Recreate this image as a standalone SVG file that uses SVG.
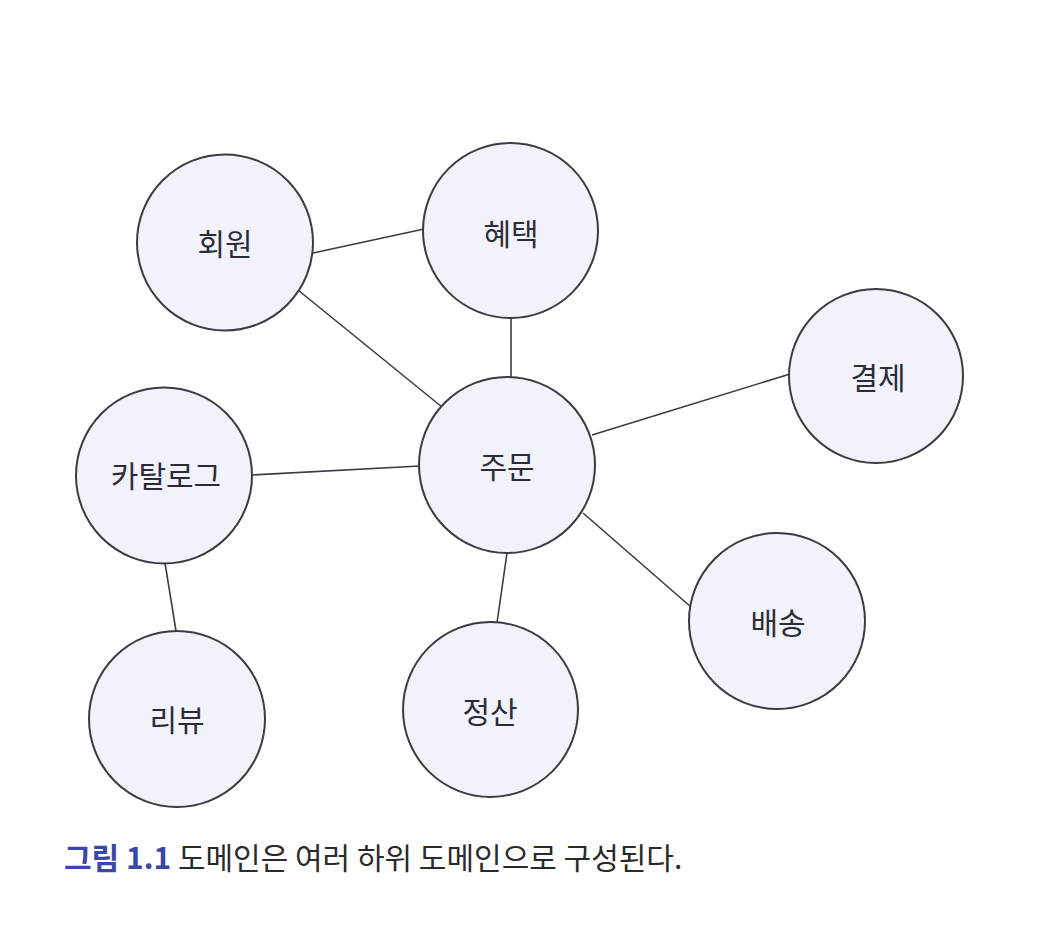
<svg xmlns="http://www.w3.org/2000/svg" width="1058" height="938" viewBox="0 0 1058 938">
<style>
.node circle{fill:#f1f2fa;stroke:#3b3b42;stroke-width:2}
.node text{font-family:"Noto Sans CJK KR","Noto Sans",sans-serif;font-size:30px;fill:#2c2c38;text-anchor:middle;dominant-baseline:central}
.edges line{stroke:#3b3b42;stroke-width:1.6}
.cap{font-family:"Noto Sans CJK KR","Noto Sans",sans-serif;font-size:30px;fill:#2a2a2a}
</style>
<rect width="1058" height="938" fill="#ffffff"/>
<g id="edges" class="edges">
<line x1="313" y1="253" x2="424" y2="229"/>
<line x1="298" y1="290" x2="442" y2="407"/>
<line x1="511" y1="317" x2="511" y2="378"/>
<line x1="592" y1="435" x2="790" y2="374"/>
<line x1="252" y1="475" x2="420" y2="466"/>
<line x1="165" y1="563" x2="176" y2="631"/>
<line x1="507" y1="553" x2="497" y2="623"/>
<line x1="583" y1="513" x2="691" y2="607"/>
</g>
<g id="n-member" class="node"><circle cx="225" cy="242.5" r="88"/><text x="225" y="242">회원</text></g>
<g id="n-benefit" class="node"><circle cx="510.5" cy="230.5" r="87.5"/><text x="511" y="232">혜택</text></g>
<g id="n-payment" class="node"><circle cx="876" cy="376" r="87"/><text x="878" y="376">결제</text></g>
<g id="n-catalog" class="node"><circle cx="164" cy="475.5" r="88"/><text x="166" y="474">카탈로그</text></g>
<g id="n-order" class="node"><circle cx="507" cy="465" r="88"/><text x="507" y="465">주문</text></g>
<g id="n-delivery" class="node"><circle cx="777" cy="621" r="88"/><text x="778" y="621">배송</text></g>
<g id="n-review" class="node"><circle cx="177" cy="719" r="88"/><text x="177" y="718">리뷰</text></g>
<g id="n-settle" class="node"><circle cx="490.5" cy="709.5" r="87.5"/><text x="490" y="710">정산</text></g>
<text class="cap" x="64" y="869"><tspan fill="#3a46a8" font-weight="bold">그림 1.1</tspan> 도메인은 여러 하위 도메인으로 구성된다.</text>
</svg>
